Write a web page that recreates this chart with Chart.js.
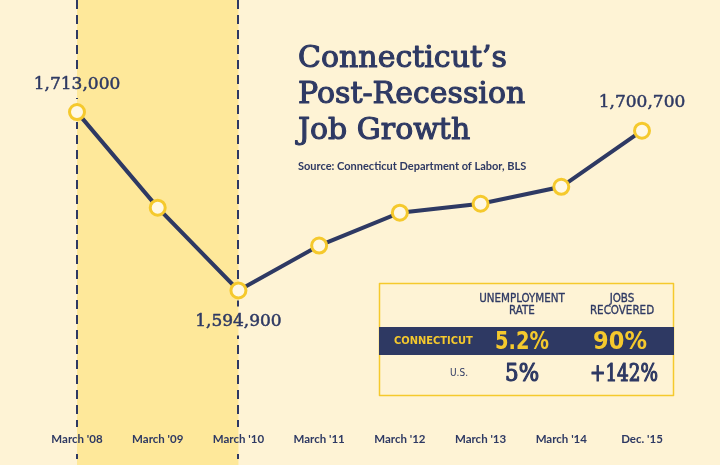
<!DOCTYPE html>
<html>
<head>
<meta charset="utf-8">
<script src="https://cdn.jsdelivr.net/npm/chart.js@4.4.1/dist/chart.umd.min.js"></script>
<style>
  html, body { margin: 0; padding: 0; background: #fef3d5; }
  #wrap { width: 720px; height: 465px; position: relative; }
  canvas { display: block; }
</style>
</head>
<body>
<div id="wrap"><canvas id="c" width="720" height="465"></canvas></div>
<script>
// ---- data ----
const categories = ["March '08", "March '09", "March '10", "March '11", "March '12", "March '13", "March '14", "Dec. '15"];
const jobs = [1713000, 1649700, 1594900, 1624600, 1646400, 1652300, 1663500, 1700700];
const labeledPoints = [0, 2, 7];            // indices that carry a value label
const labelBelow = [2];                     // indices labelled under the point
const recessionStart = 0;                   // index of March '08
const recessionEnd = 2;                     // index of March '10
const titleLines = ["Connecticut\u2019s", "Post-Recession", "Job Growth"];
const sourceText = "Source: Connecticut Department of Labor, BLS";
const tableHeaders = [["UNEMPLOYMENT", "RATE"], ["JOBS", "RECOVERED"]];
const tableRows = ["CONNECTICUT", "U.S."];
const unemploymentRate = ["5.2%", "5%"];
const jobsRecovered = ["90%", "+142%"];

const NAVY = '#2e3963';
const YELLOW = '#f5c92d';
const BAND = '#fee89a';
const BG = '#fef3d5';

const fmt = v => v.toLocaleString('en-US');

function heavyText(ctx, t, x, y, w, maxW) {
  ctx.lineWidth = w;
  ctx.lineJoin = 'round';
  ctx.strokeStyle = ctx.fillStyle;
  if (maxW) { ctx.strokeText(t, x, y, maxW); ctx.fillText(t, x, y, maxW); }
  else { ctx.strokeText(t, x, y); ctx.fillText(t, x, y); }
}

function valueLabelY(chart, i) {
  const p = chart.getDatasetMeta(0).data[i];
  return labelBelow.includes(i) ? p.y + 31 : p.y - 28;
}

const bgPlugin = {
  id: 'bg',
  beforeDraw(chart) {
    const {ctx, scales: {x}} = chart;
    const H = chart.height;
    ctx.save();
    ctx.fillStyle = BG;
    ctx.fillRect(0, 0, chart.width, H);
    const x0 = x.getPixelForValue(recessionStart);
    const x1 = x.getPixelForValue(recessionEnd);
    ctx.fillStyle = BAND;
    ctx.fillRect(x0, 0, x1 - x0, H);
    ctx.restore();
  },
  afterDatasetsDraw(chart) {
    // dashed recession boundaries, broken around text labels
    const {ctx, scales: {x}, chartArea} = chart;
    const H = chart.height;
    const tickY = chartArea.bottom + 38;
    [recessionStart, recessionEnd].forEach(idx => {
      const px = Math.round(x.getPixelForValue(idx));
      const p = chart.getDatasetMeta(0).data[idx];
      const gaps = [[tickY - 11, tickY + 16], [p.y - 10, p.y + 10]];
      if (labeledPoints.includes(idx)) {
        const ly = valueLabelY(chart, idx);
        gaps.push([ly - 15, ly + 14]);
      }
      ctx.save();
      ctx.beginPath();
      ctx.rect(0, 0, chart.width, H);
      gaps.forEach(g => ctx.rect(px + 5, g[0], -10, g[1] - g[0]));
      ctx.clip('evenodd');
      ctx.strokeStyle = NAVY;
      ctx.lineWidth = 2;
      ctx.setLineDash([9, 6]);
      ctx.beginPath();
      ctx.moveTo(px, 0);
      ctx.lineTo(px, H);
      ctx.stroke();
      ctx.restore();
    });
  }
};

const textPlugin = {
  id: 'texts',
  afterDraw(chart) {
    const {ctx} = chart;
    ctx.save();
    // value labels
    const meta = chart.getDatasetMeta(0);
    ctx.fillStyle = NAVY;
    ctx.font = '17px "DejaVu Serif"';
    ctx.textAlign = 'center';
    ctx.textBaseline = 'middle';
    labeledPoints.forEach(i => {
      const p = meta.data[i];
      heavyText(ctx, fmt(jobs[i]), p.x, valueLabelY(chart, i), 0.5);
    });

    // title
    ctx.textAlign = 'left';
    ctx.textBaseline = 'alphabetic';
    ctx.font = '30px "DejaVu Serif"';
    const tx = 298;
    const titleW = [227, 254, 184];
    titleLines.forEach((t, k) => {
      heavyText(ctx, t, tx, 67 + k * 36, 1.1, titleW[k]);
    });
    ctx.font = 'bold 11px Lato';
    ctx.fillText(sourceText, tx, 170, 231);

    // table
    const bx = 379, by = 283, bw = 294, bh = 112;
    ctx.strokeStyle = YELLOW;
    ctx.lineWidth = 1.5;
    ctx.strokeRect(bx + 0.5, by + 0.5, bw, bh);
    ctx.fillStyle = NAVY;
    ctx.fillRect(bx, 327, bw + 1, 28);

    const cols = [522, 622];
    ctx.textAlign = 'center';
    ctx.textBaseline = 'middle';
    ctx.font = '11.5px "DejaVu Sans Condensed"';
    ctx.fillStyle = NAVY;
    tableHeaders.forEach((h, c) => {
      h.forEach((line, k) => heavyText(ctx, line, cols[c], 299 + k * 12.5, 0.3));
    });

    const rowY = [341, 373];
    tableRows.forEach((r, i) => {
      ctx.textAlign = i === 0 ? 'left' : 'right';
      ctx.fillStyle = i === 0 ? YELLOW : NAVY;
      ctx.font = i === 0 ? 'bold 11px "Liberation Sans Narrow", "DejaVu Sans Condensed"' : '10px "DejaVu Sans Condensed"';
      ctx.fillText(r, i === 0 ? 394 : 468, rowY[i]);
      ctx.textAlign = 'center';
      if (i === 0) {
        ctx.font = 'bold 25px "DejaVu Sans Condensed"';
        ctx.fillText(unemploymentRate[i], cols[0], rowY[i] + 1, 54);
        ctx.fillText(jobsRecovered[i], cols[1] - 2, rowY[i] + 1, 56);
      } else {
        ctx.font = '25px "DejaVu Serif Condensed", "DejaVu Serif"';
        heavyText(ctx, unemploymentRate[i], cols[0], rowY[i] + 1, 1.2, 34);
        heavyText(ctx, jobsRecovered[i], cols[1] + 2, rowY[i] + 1, 1.2, 68);
      }
    });
    ctx.restore();
  }
};

new Chart(document.getElementById('c'), {
  type: 'line',
  data: {
    labels: categories,
    datasets: [{
      data: jobs,
      borderColor: NAVY,
      borderWidth: 4,
      tension: 0,
      pointRadius: 7.5,
      pointBorderWidth: 3,
      pointBorderColor: YELLOW,
      pointBackgroundColor: '#fff8e4',
      clip: false
    }]
  },
  options: {
    responsive: false,
    animation: false,
    devicePixelRatio: 1,
    layout: { padding: { left: 77, right: 78, top: 0, bottom: 0 } },
    plugins: { legend: { display: false }, tooltip: { enabled: false } },
    scales: {
      x: {
        offset: false,
        grid: { display: false, drawTicks: false },
        border: { display: false },
        ticks: {
          color: NAVY,
          font: { family: 'Lato', weight: 'bold', size: 11.5 },
          padding: 32,
          maxRotation: 0,
          autoSkip: false
        },
        afterFit(scale) { scale.height = 65; }
      },
      y: {
        display: false,
        min: 1522300,
        max: 1780300
      }
    }
  },
  plugins: [bgPlugin, textPlugin]
});
</script>
</body>
</html>
